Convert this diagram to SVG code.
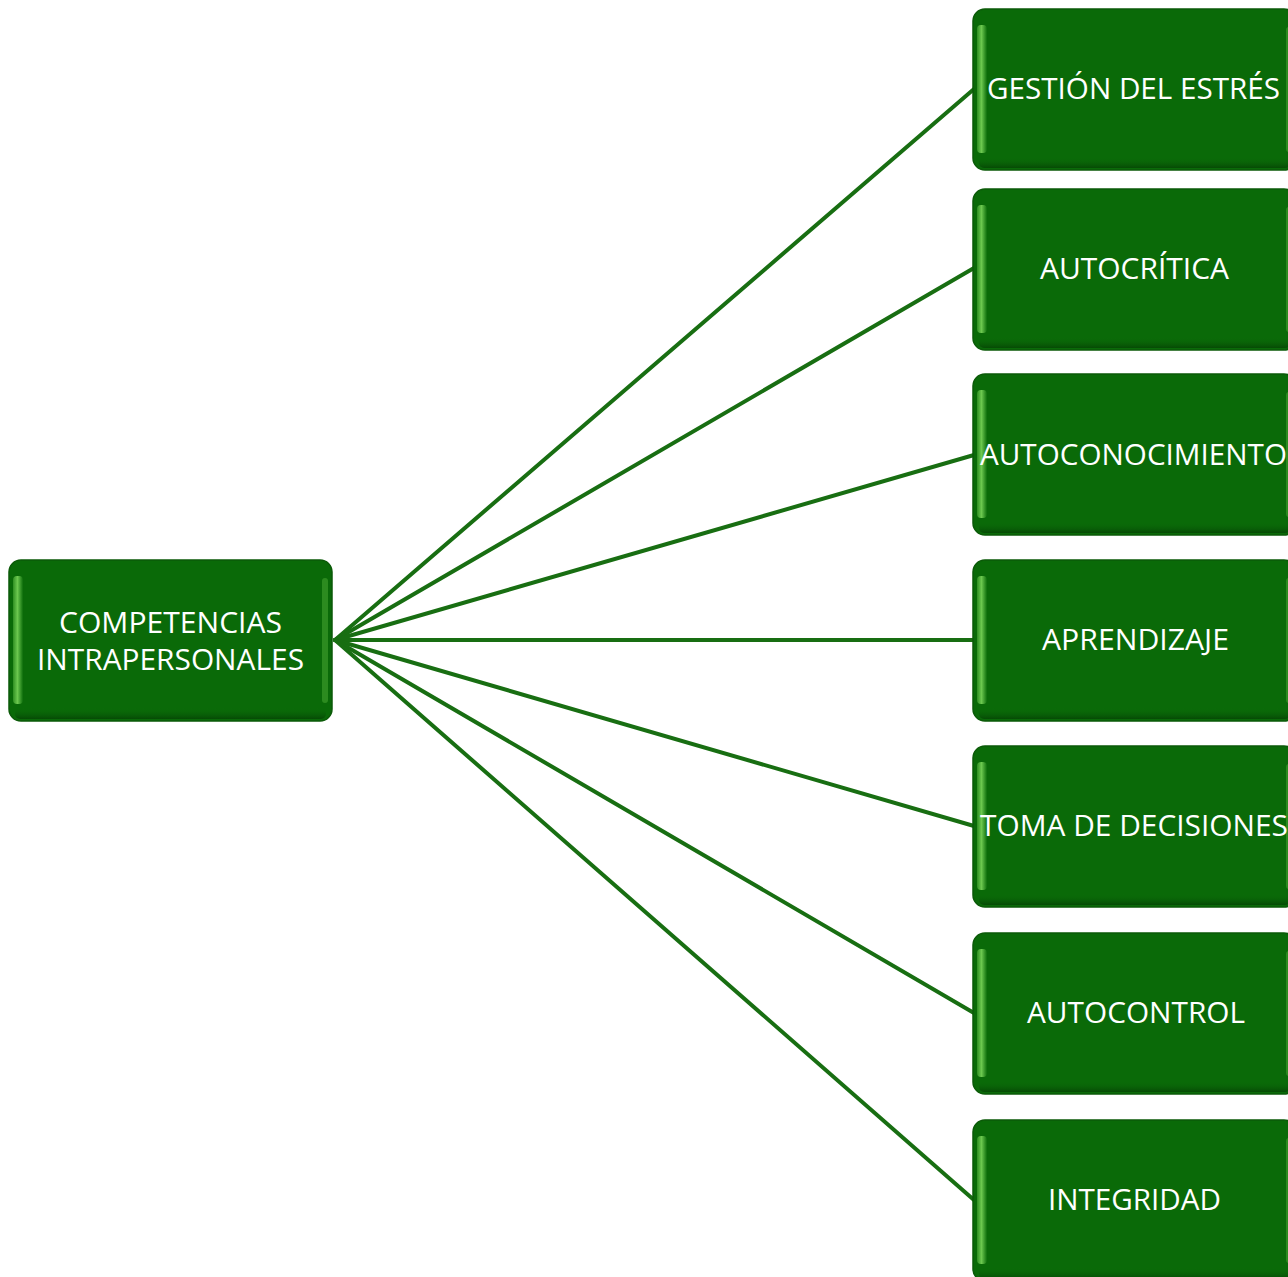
<svg xmlns="http://www.w3.org/2000/svg" width="1288" height="1277" viewBox="0 0 1288 1277">
<defs>
<linearGradient id="lhl" x1="0" y1="0" x2="1" y2="0">
<stop offset="0" stop-color="#2f8f22"/>
<stop offset="0.45" stop-color="#6cc84f"/>
<stop offset="1" stop-color="#0d6e0b"/>
</linearGradient>
<linearGradient id="bot" x1="0" y1="0" x2="0" y2="1">
<stop offset="0" stop-color="#0b6b09" stop-opacity="0"/>
<stop offset="1" stop-color="#064a05"/>
</linearGradient>
<g id="box">
<rect x="0" y="0" width="323" height="161" rx="12" fill="#0a6a08" stroke="#0b5a08" stroke-width="1.5"/>
<rect x="4" y="16" width="10" height="128" rx="4" fill="url(#lhl)"/>
<rect x="313" y="18" width="6" height="125" rx="3" fill="#3a9a2a" opacity="0.7"/>
<rect x="6" y="148" width="311" height="11" rx="5" fill="url(#bot)"/>
</g>
</defs>
<style>
.t{font-family:"Open Sans","Liberation Sans",sans-serif;font-size:29px;fill:#ffffff;text-anchor:middle}
.c{stroke:#186e12;stroke-width:4;fill:none;stroke-linecap:round}
</style>
<rect width="1288" height="1277" fill="#ffffff"/>
<g id="connectors">
<line class="c" x1="335" y1="640" x2="974" y2="89"/>
<line class="c" x1="335" y1="640" x2="974" y2="268"/>
<line class="c" x1="335" y1="640" x2="974" y2="455"/>
<line class="c" x1="335" y1="640" x2="974" y2="640"/>
<line class="c" x1="335" y1="640" x2="974" y2="826"/>
<line class="c" x1="335" y1="640" x2="974" y2="1013"/>
<line class="c" x1="335" y1="640" x2="974" y2="1200"/>
</g>
<g id="root">
<use href="#box" x="9" y="560"/>
<text class="t" x="170.5" y="633" textLength="223" lengthAdjust="spacingAndGlyphs">COMPETENCIAS</text>
<text class="t" x="170.5" y="670" textLength="267" lengthAdjust="spacingAndGlyphs">INTRAPERSONALES</text>
</g>
<g id="n1">
<use href="#box" x="973" y="9"/>
<text class="t" x="1133.5" y="99" textLength="293" lengthAdjust="spacingAndGlyphs">GESTIÓN DEL ESTRÉS</text>
</g>
<g id="n2">
<use href="#box" x="973" y="189"/>
<text class="t" x="1134.5" y="279" textLength="189" lengthAdjust="spacingAndGlyphs">AUTOCRÍTICA</text>
</g>
<g id="n3">
<use href="#box" x="973" y="374"/>
<text class="t" x="1133.5" y="465" textLength="307" lengthAdjust="spacingAndGlyphs">AUTOCONOCIMIENTO</text>
</g>
<g id="n4">
<use href="#box" x="973" y="560"/>
<text class="t" x="1135.5" y="650" textLength="187" lengthAdjust="spacingAndGlyphs">APRENDIZAJE</text>
</g>
<g id="n5">
<use href="#box" x="973" y="746"/>
<text class="t" x="1134" y="836" textLength="308" lengthAdjust="spacingAndGlyphs">TOMA DE DECISIONES</text>
</g>
<g id="n6">
<use href="#box" x="973" y="933"/>
<text class="t" x="1136" y="1023" textLength="218" lengthAdjust="spacingAndGlyphs">AUTOCONTROL</text>
</g>
<g id="n7">
<use href="#box" x="973" y="1120"/>
<text class="t" x="1134.5" y="1210" textLength="173" lengthAdjust="spacingAndGlyphs">INTEGRIDAD</text>
</g>
</svg>
